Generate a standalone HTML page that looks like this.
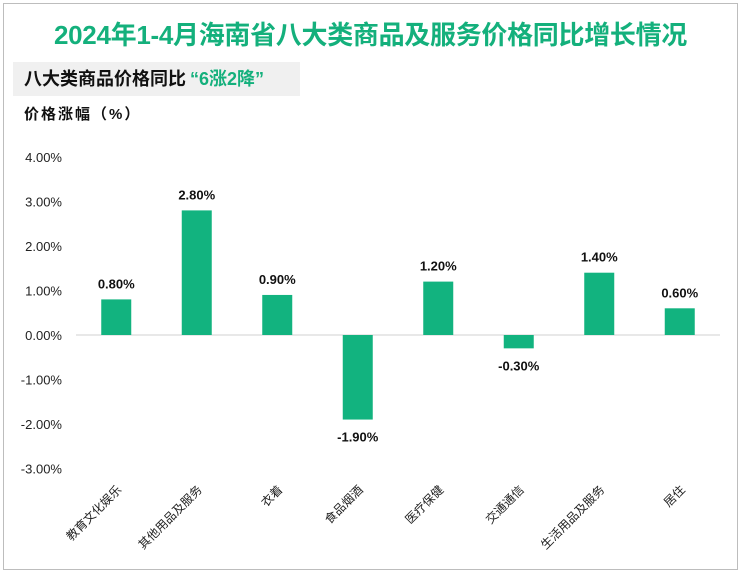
<!DOCTYPE html>
<html><head><meta charset="utf-8">
<style>
body{margin:0;background:#fff;}
#wrap{position:relative;width:741px;height:573px;overflow:hidden;font-family:"Liberation Sans","Noto Sans CJK SC",sans-serif;}
#frame{position:absolute;left:3px;top:3px;width:733px;height:565px;border:1px solid #bdbdbd;}
#title{position:absolute;left:0;width:741px;top:15px;text-align:center;font-size:26px;font-weight:bold;color:#14b07c;letter-spacing:-0.3px;}
#sub{position:absolute;left:13px;top:62px;width:287px;height:34px;background:#f0f0f0;font-size:18px;font-weight:bold;color:#111;line-height:34px;padding-left:11px;box-sizing:border-box;}
#sub span{color:#14b07c;margin-left:4px;}
#ytitle{position:absolute;left:24px;top:103px;font-size:15px;font-weight:bold;letter-spacing:2px;color:#111;}
svg{position:absolute;left:0;top:0;}
</style></head><body>
<div id="wrap">
<div id="frame"></div>
<div id="title">2024年1-4月海南省八大类商品及服务价格同比增长情况</div>
<div id="sub">八大类商品价格同比<span>“6涨2降”</span></div>
<div id="ytitle">价格涨幅（%）</div>
<svg id="chart" width="741" height="573"></svg>
</div>
<script>
const categories=["教育文化娱乐","其他用品及服务","衣着","食品烟酒","医疗保健","交通通信","生活用品及服务","居住"];
const values=[0.8,2.8,0.9,-1.9,1.2,-0.3,1.4,0.6];
const yTicks=[4,3,2,1,0,-1,-2,-3];
const NS="http://www.w3.org/2000/svg";
const svg=document.getElementById('chart');
const x0=76,x1=720,y0px=335,perUnit=44.5;
const step=(x1-x0)/categories.length;
function y(v){return y0px-v*perUnit;}
function xc(i){return x0+step*(i+0.5);}
function mk(t,a){const e=document.createElementNS(NS,t);for(const k in a)e.setAttribute(k,a[k]);svg.appendChild(e);return e;}
yTicks.forEach(v=>{
  const t=mk('text',{x:62,y:y(v)+5,'text-anchor':'end','font-size':13,fill:'#222','font-family':'Liberation Sans'});
  t.textContent=v.toFixed(2)+'%';
  
  
});
const zl=mk('line',{x1:x0,x2:x1,y1:y(0),y2:y(0),stroke:'#d0d0d0','stroke-width':1});


values.forEach((v,i)=>{
  const top=Math.min(y(v),y(0)),h=Math.abs(y(v)-y(0));
  const r=mk('rect',{x:xc(i)-15,y:top,width:30,height:h,fill:'#12b37f'});
  
  
  const ly=v>=0?y(v)-11:y(v)+22;
  const t=mk('text',{x:xc(i),y:ly,'text-anchor':'middle','font-size':13,'font-weight':'bold',fill:'#111','font-family':'Liberation Sans'});
  t.textContent=v.toFixed(2)+'%';
  
  
  const c=mk('text',{x:xc(i)+6,y:y(-3)+22,'text-anchor':'end','font-size':12,fill:'#222','font-family':'Liberation Sans, Noto Sans CJK SC, sans-serif',transform:'rotate(-45 '+(xc(i)+6)+' '+(y(-3)+22)+')'});
  c.textContent=categories[i];
  
  
});
</script>
</body></html>
